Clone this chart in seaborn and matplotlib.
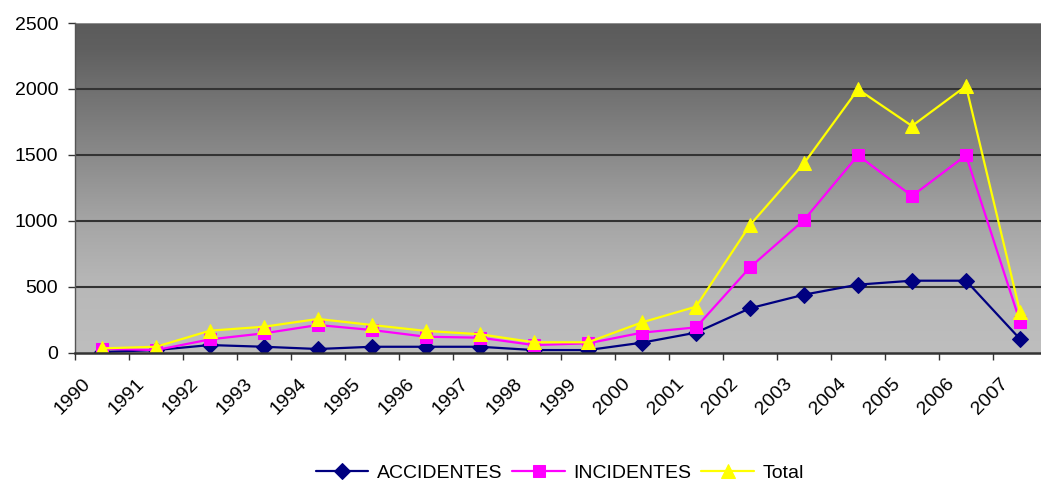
import numpy as np
import pandas as pd
import matplotlib
matplotlib.use("Agg")
import matplotlib.pyplot as plt
import seaborn as sns
from matplotlib.transforms import ScaledTranslation

years = [str(y) for y in range(1990, 2008)]
accidentes = [5, 20, 58, 45, 28, 45, 45, 45, 20, 20, 76, 152, 337, 440, 516, 546, 546, 104]
incidentes = [30, 20, 101, 147, 210, 172, 121, 114, 58, 71, 152, 192, 647, 1006, 1497, 1188, 1497, 235]
total = [33, 45, 167, 197, 256, 210, 165, 140, 79, 79, 230, 349, 968, 1436, 1997, 1719, 2022, 311]
y_ticks = [0, 500, 1000, 1500, 2000, 2500]

sns.set_style("white")
plt.rcParams['font.family'] = ['Liberation Sans', 'DejaVu Sans']
plt.rcParams['text.color'] = 'black'
plt.rcParams['xtick.color'] = 'black'
plt.rcParams['ytick.color'] = 'black'

W, H = 1041, 483
fig = plt.figure(figsize=(W / 100, H / 100), dpi=100)
left, right, top, bottom = 75, 1047, 23, 352.7
ax = fig.add_axes([left / W, (H - bottom) / H, (right - left) / W, (bottom - top) / H])

n = len(years)
pos = np.arange(n) + 0.5
ax.set_xlim(0, n)
ax.set_ylim(0, 2500)

# gradient background
gy = np.array([0, 500, 1000, 1500, 2000, 2300, 2500])
gv = np.array([0xbe, 0xb8, 0xa5, 0x8a, 0x70, 0x60, 0x5b]) / 255.0
yy = np.linspace(0, 2500, 300)
vals = np.interp(yy, gy, gv)
img = np.repeat(vals[:, None], 2, axis=1)
ax.imshow(np.dstack([img, img, img]), extent=[0, n, 0, 2500], origin='lower',
          aspect='auto', zorder=0, interpolation='bilinear')

for v in y_ticks[1:-1]:
    ax.axhline(v, color='#333333', lw=1.5, zorder=1)
ax.axhline(2500, color='#999999', lw=1.2, zorder=1)

sns.lineplot(x=pos, y=accidentes, ax=ax, color='#000080', lw=1.6, marker='D',
             markersize=8, markeredgecolor='#000080', label='ACCIDENTES', zorder=3)
sns.lineplot(x=pos, y=incidentes, ax=ax, color='#ff00ff', lw=1.6, marker='s',
             markersize=8.5, markeredgecolor='#ff00ff', label='INCIDENTES', zorder=4)
sns.lineplot(x=pos, y=total, ax=ax, color='#ffff00', lw=1.6, marker='^',
             markersize=10, markeredgecolor='#ffff00', label='Total', zorder=5)

for s in ['top', 'right']:
    ax.spines[s].set_visible(False)
ax.spines['left'].set_color('#555555')
ax.spines['left'].set_linewidth(1.0)
ax.spines['bottom'].set_color('#333333')
ax.spines['bottom'].set_linewidth(1.8)
ax.spines['bottom'].set_zorder(6)

ax.set_yticks(y_ticks)
ax.set_yticklabels([str(v) for v in y_ticks], fontsize=14, color='black')
ax.tick_params(axis='y', direction='out', length=5, width=1, color='#333333', pad=7, left=True)

ax.set_xticks(np.arange(n + 1))
ax.set_xticklabels([])
ax.tick_params(axis='x', which='major', direction='out', length=5, width=1, color='#333333', bottom=True)
ax.set_xticks(pos, minor=True)
ax.set_xticklabels(years, minor=True, fontsize=14, rotation=45, ha='right', va='top',
                   rotation_mode='anchor', color='black')
ax.tick_params(axis='x', which='minor', length=0, pad=16)
off = ScaledTranslation(-20 / 100, 0, fig.dpi_scale_trans)
for lab in ax.get_xticklabels(minor=True):
    lab.set_transform(lab.get_transform() + off)

ax.set_xlabel('')
ax.set_ylabel('')
leg = ax.legend(loc='center', bbox_to_anchor=(560 / W, 10 / H), bbox_transform=fig.transFigure,
                ncol=3, frameon=False, fontsize=14, handlelength=2.7, columnspacing=0.5,
                handletextpad=0.45, labelcolor='black')

fig.savefig('out.png', dpi=100)
